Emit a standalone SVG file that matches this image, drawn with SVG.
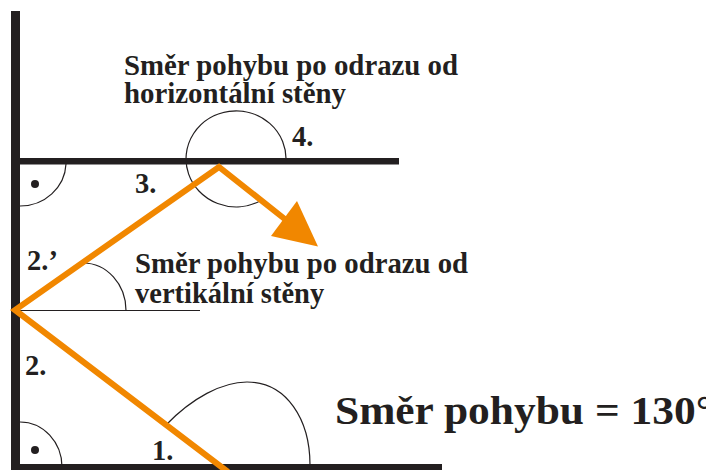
<svg xmlns="http://www.w3.org/2000/svg" width="706" height="470" viewBox="0 0 706 470">
<style>
.wall{fill:#231f20}
.thin{fill:none;stroke:#231f20;stroke-width:1.2}
.ray{fill:none;stroke:#f18700;stroke-width:6;stroke-linejoin:miter}
.lbl{font-family:"Liberation Serif","Times New Roman","DejaVu Serif",serif;font-weight:bold;fill:#231f20}
.s{font-size:28.5px}
.b{font-size:40px}
</style>
<rect width="706" height="470" fill="#ffffff"/>
<g id="walls">
<rect class="wall" x="11" y="11" width="9" height="459"/>
<rect class="wall" x="20" y="158" width="379" height="6.5"/>
<rect class="wall" x="20" y="464" width="422" height="6"/>
</g>
<g id="angle-marks">
<path class="thin" d="M20,206 A46,44 0 0 0 66,164"/>
<circle cx="35" cy="184" r="4" fill="#231f20"/>
<path class="thin" d="M20,422 A42,45 0 0 1 62,467"/>
<circle cx="35" cy="450" r="4" fill="#231f20"/>
<line class="thin" x1="14" y1="310.5" x2="200" y2="310.5"/>
<path class="thin" d="M83,263 A43,47.5 0 0 1 126,310.5"/>
<path class="thin" d="M166,425 C192,398 222,382 247,382 C287,382 310,420 310,465"/>
<path class="thin" d="M286,161 A50,48 0 1 0 260,201"/>
</g>
<g id="connectors">
<path class="ray" d="M228,472 L15,310 L219,167 L286,220"/>
<polygon points="297,201 271,236 318,246.5" fill="#f18700"/>
</g>
<g id="labels">
<text class="lbl s" x="124" y="75" textLength="334" lengthAdjust="spacingAndGlyphs">Směr pohybu po odrazu od</text>
<text class="lbl s" x="124" y="102.5" textLength="222" lengthAdjust="spacingAndGlyphs">horizontální stěny</text>
<text class="lbl s" x="292" y="145.5">4.</text>
<text class="lbl s" x="135" y="193">3.</text>
<text class="lbl s" x="27" y="270">2.’</text>
<text class="lbl s" x="135" y="273" textLength="333" lengthAdjust="spacingAndGlyphs">Směr pohybu po odrazu od</text>
<text class="lbl s" x="135" y="303">vertikální stěny</text>
<text class="lbl s" x="25" y="375">2.</text>
<text class="lbl s" x="152" y="460">1.</text>
<text class="lbl b" x="335" y="424" textLength="378" lengthAdjust="spacingAndGlyphs">Směr pohybu = 130°</text>
</g>
</svg>
